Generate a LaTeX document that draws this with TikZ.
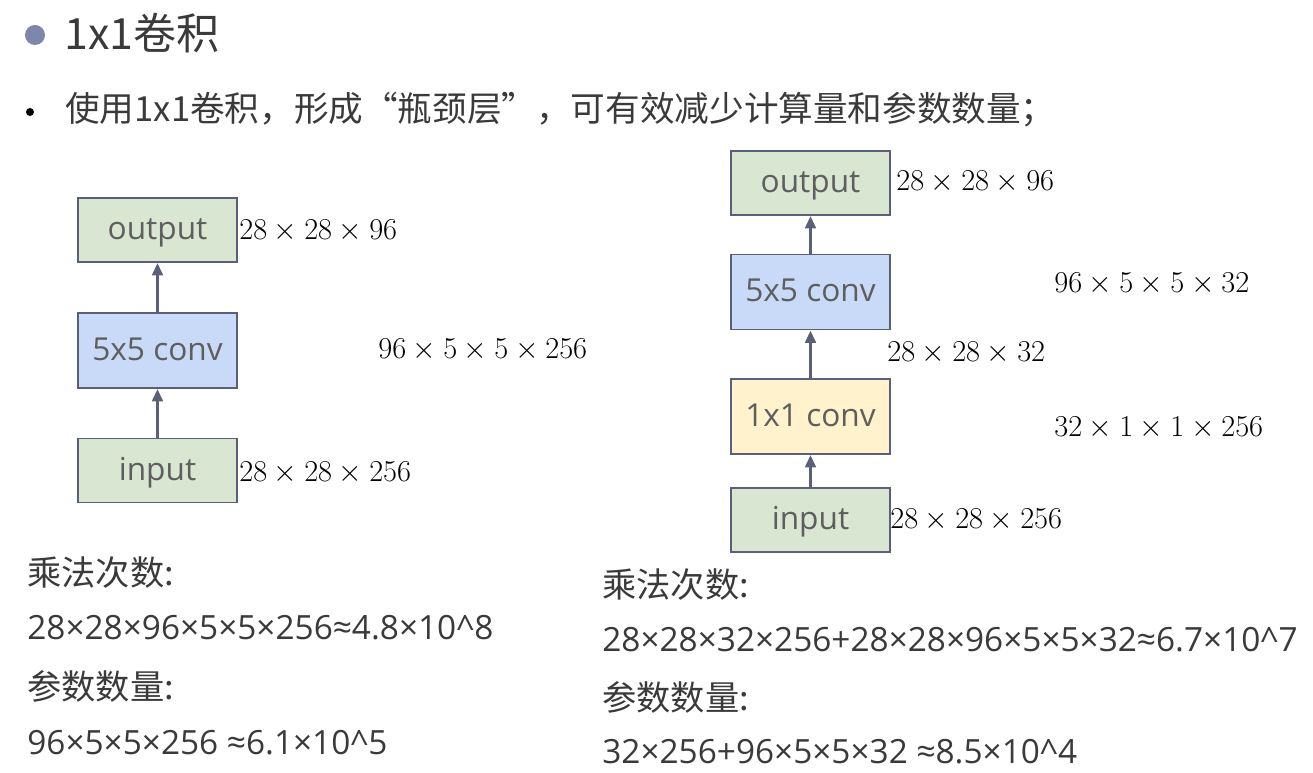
\documentclass[tikz,border=0pt]{standalone}
\usepackage{fontspec}
\setmainfont{Open Sans}
\newfontfamily\cjk{Noto Sans CJK SC}
\usetikzlibrary{positioning, arrows.meta}

\definecolor{boxline}{HTML}{5B6079}
\definecolor{ingreen}{HTML}{D9E6D2}
\definecolor{convblue}{HTML}{C9DAF8}
\definecolor{convyellow}{HTML}{FFF2CC}
\definecolor{bulletblue}{HTML}{7E86AC}
\definecolor{boxtext}{HTML}{5E5E5E}
\definecolor{textgray}{HTML}{3A3A3A}

\begin{document}
\begin{tikzpicture}[x=0.02cm, y=-0.02cm,
    layer/.style={draw=boxline, line width=1.1pt, minimum width=3.18cm, minimum height=1.28cm,
        text=boxtext, font=\fontsize{18}{21}\selectfont, inner sep=0pt, text height=13pt, text depth=2pt},
    tall/.style={minimum height=1.5cm},
    flow/.style={draw=boxline, line width=1.6pt, -{Triangle[length=7pt, width=6pt]}},
    dim/.style={anchor=west, inner sep=0pt, font=\fontsize{17.8}{20}\selectfont},
    note/.style={anchor=west, inner sep=0pt, text=textgray, font=\cjk\fontsize{19.5}{23}\selectfont},
    formula/.style={anchor=west, inner sep=0pt, text=textgray, font=\fontsize{19}{22}\selectfont}]
    \useasboundingbox (0,0) rectangle (1313,773);

    % Titel
    \fill[bulletblue] (35,35) circle[radius=10];
    \node[anchor=west, inner sep=0pt, text=textgray, font=\cjk\fontsize{24.5}{28}\selectfont] (title) at (64,33) {1x1卷积};
    \fill[black] (30,112) circle[radius=4];
    \node[anchor=west, inner sep=0pt, text=textgray, font=\cjk\fontsize{19.7}{24}\selectfont] (lead) at (65,110)
        {使用1x1卷积，形成“瓶颈层”，可有效减少计算量和参数数量；};

    % Links: direkt 5x5
    \node[layer, fill=ingreen] (outA) at (157.5,230) {output};
    \node[layer, tall, fill=convblue] (convA) at (157.5,350.5) {5x5 conv};
    \node[layer, fill=ingreen] (inA) at (157.5,470.5) {input};
    \draw[flow] (inA) -- (convA);
    \draw[flow] (convA) -- (outA);
    \node[dim] (outAdim) at (239,231) {$28 \times 28 \times 96$};
    \node[dim] (convAdim) at (378,350) {$96 \times 5 \times 5 \times 256$};
    \node[dim] (inAdim) at (239,473) {$28 \times 28 \times 256$};

    % Rechts: mit 1x1 Flaschenhals
    \node[layer, fill=ingreen] (outB) at (810.5,183) {output};
    \node[layer, tall, fill=convblue] (convB) at (810.5,292) {5x5 conv};
    \node[layer, tall, fill=convyellow] (neckB) at (810.5,416.5) {1x1 conv};
    \node[layer, fill=ingreen] (inB) at (810.5,520) {input};
    \draw[flow] (inB) -- (neckB);
    \draw[flow] (neckB) -- (convB);
    \draw[flow] (convB) -- (outB);
    \node[dim] (outBdim) at (896,182) {$28 \times 28 \times 96$};
    \node[dim] (convBdim) at (1054,284) {$96 \times 5 \times 5 \times 32$};
    \node[dim] (midBdim) at (887,353) {$28 \times 28 \times 32$};
    \node[dim] (neckBdim) at (1054,428) {$32 \times 1 \times 1 \times 256$};
    \node[dim] (inBdim) at (890,520) {$28 \times 28 \times 256$};

    % Rechnung links
    \node[note] (mulA) at (27,573) {乘法次数:};
    \node[formula] (mulAval) at (27,628) {28×28×96×5×5×256≈4.8×10\^{}8};
    \node[note] (parA) at (27,686) {参数数量:};
    \node[formula] (parAval) at (27,743) {96×5×5×256 ≈6.1×10\^{}5};

    % Rechnung rechts
    \node[note] (mulB) at (602,585) {乘法次数:};
    \node[formula] (mulBval) at (602,640) {28×28×32×256+28×28×96×5×5×32≈6.7×10\^{}7};
    \node[note] (parB) at (602,697) {参数数量:};
    \node[formula] (parBval) at (602,752) {32×256+96×5×5×32 ≈8.5×10\^{}4};
\end{tikzpicture}
\end{document}
